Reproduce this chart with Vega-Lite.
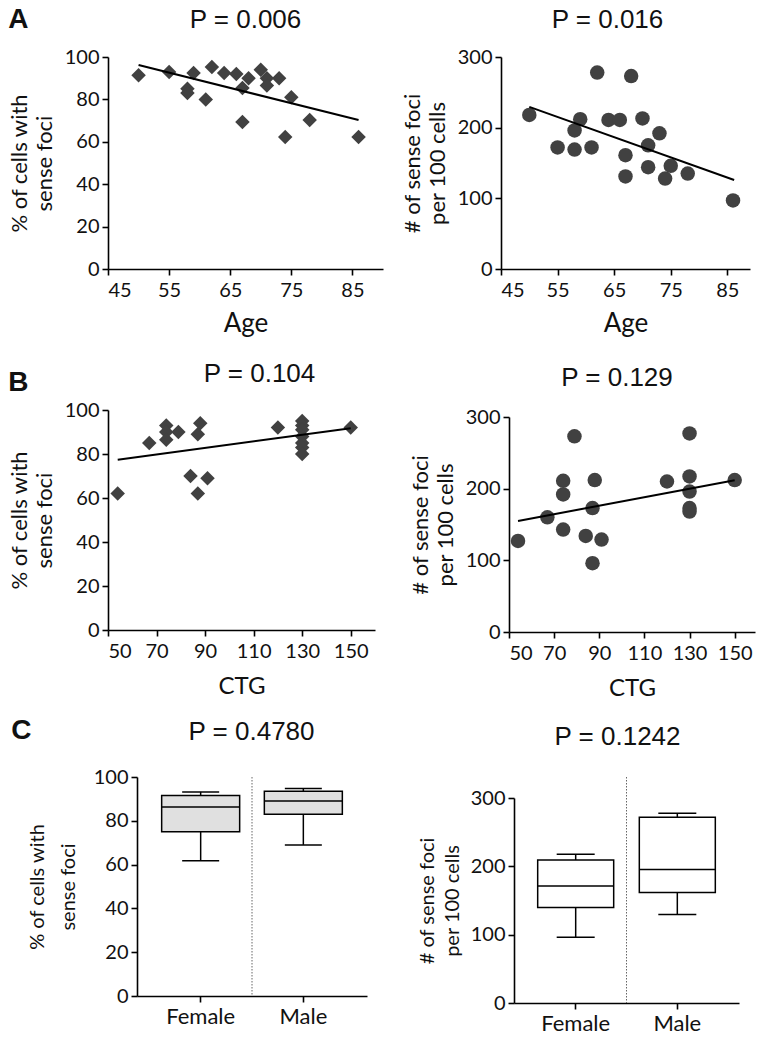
{
  "$schema": "https://vega.github.io/schema/vega-lite/v6.json",
  "background": "white",
  "padding": {"left": 8, "top": 6, "right": 6, "bottom": 0},
  "config": {
    "view": {"stroke": null},
    "axis": {"grid": false, "domainColor": "#000", "domainWidth": 1.6, "tickColor": "#000", "tickWidth": 1.6, "tickSize": 6, "labelFont": "Lato", "labelFontSize": 20, "labelColor": "#111", "titleFont": "Lato", "titleFontSize": 22, "titleFontWeight": "normal", "titleColor": "#111", "labelPadding": 3, "titlePadding": 8},
    "title": {"font": "Liberation Sans", "fontSize": 26, "fontWeight": "normal", "color": "#111"}
  },
  "datasets": {
    "ageFraction": [
      {"age": 50, "pct": 91.4}, {"age": 55, "pct": 92.9}, {"age": 58, "pct": 85}, {"age": 58, "pct": 83}, {"age": 59, "pct": 92.5},
      {"age": 61, "pct": 80}, {"age": 62, "pct": 95.3}, {"age": 64, "pct": 92.5}, {"age": 66, "pct": 92}, {"age": 67, "pct": 85.4},
      {"age": 67, "pct": 69.3}, {"age": 68, "pct": 90}, {"age": 70, "pct": 94}, {"age": 71, "pct": 90}, {"age": 71, "pct": 86.5},
      {"age": 73, "pct": 90}, {"age": 74, "pct": 62.3}, {"age": 75, "pct": 81}, {"age": 78, "pct": 70.3}, {"age": 86, "pct": 62.3}
    ],
    "ageFoci": [
      {"age": 50, "foci": 218}, {"age": 55, "foci": 172}, {"age": 58, "foci": 196}, {"age": 58, "foci": 169}, {"age": 59, "foci": 212},
      {"age": 61, "foci": 172}, {"age": 62, "foci": 278}, {"age": 64, "foci": 211}, {"age": 66, "foci": 211}, {"age": 67, "foci": 161},
      {"age": 67, "foci": 131}, {"age": 68, "foci": 273}, {"age": 70, "foci": 213}, {"age": 71, "foci": 175}, {"age": 71, "foci": 144},
      {"age": 73, "foci": 192}, {"age": 74, "foci": 128}, {"age": 75, "foci": 146}, {"age": 78, "foci": 135}, {"age": 86, "foci": 97}
    ],
    "ctgFraction": [
      {"ctg": 54, "pct": 62}, {"ctg": 67, "pct": 85}, {"ctg": 74, "pct": 93}, {"ctg": 74, "pct": 90}, {"ctg": 74, "pct": 86.5},
      {"ctg": 79, "pct": 90}, {"ctg": 84, "pct": 70}, {"ctg": 88, "pct": 94}, {"ctg": 87, "pct": 89}, {"ctg": 87, "pct": 62},
      {"ctg": 91, "pct": 69}, {"ctg": 120, "pct": 92}, {"ctg": 130, "pct": 95}, {"ctg": 130, "pct": 93}, {"ctg": 130, "pct": 91},
      {"ctg": 130, "pct": 88}, {"ctg": 130, "pct": 85}, {"ctg": 130, "pct": 83}, {"ctg": 130, "pct": 80}, {"ctg": 150, "pct": 92}
    ],
    "ctgFoci": [
      {"ctg": 54, "foci": 127}, {"ctg": 67, "foci": 160}, {"ctg": 74, "foci": 211}, {"ctg": 74, "foci": 192}, {"ctg": 74, "foci": 143},
      {"ctg": 79, "foci": 273}, {"ctg": 84, "foci": 134}, {"ctg": 88, "foci": 212}, {"ctg": 87, "foci": 173}, {"ctg": 87, "foci": 96},
      {"ctg": 91, "foci": 129}, {"ctg": 120, "foci": 210}, {"ctg": 130, "foci": 277}, {"ctg": 130, "foci": 217}, {"ctg": 130, "foci": 196},
      {"ctg": 130, "foci": 173}, {"ctg": 130, "foci": 168}, {"ctg": 150, "foci": 212}
    ],
    "fitAgeFraction": [{"age": 50, "pct": 96.2}, {"age": 86, "pct": 70.3}],
    "fitAgeFoci": [{"age": 50, "foci": 229.5}, {"age": 86.2, "foci": 125.9}],
    "fitCtgFraction": [{"ctg": 54, "pct": 77.4}, {"ctg": 150, "pct": 91.7}],
    "fitCtgFoci": [{"ctg": 54, "foci": 155}, {"ctg": 150, "foci": 211.6}],
    "boxFraction": [
      {"sex": "Female", "min": 61.8, "q1": 75, "median": 86.3, "q3": 91.5, "max": 93.2},
      {"sex": "Male", "min": 69, "q1": 83, "median": 89, "q3": 93.5, "max": 94.8}
    ],
    "boxFoci": [
      {"sex": "Female", "min": 96.4, "q1": 139.8, "median": 171.4, "q3": 209.4, "max": 217.7},
      {"sex": "Male", "min": 129.6, "q1": 161.7, "median": 195.3, "q3": 271.8, "max": 277.6}
    ],
    "divider": [{"sex": "Female"}]
  },
  "spacing": 17,
  "vconcat": [
    {
      "spacing": 25,
      "vconcat": [
        {
          "title": {"text": "A", "anchor": "start", "frame": "bounds", "fontSize": 28, "fontWeight": "bold", "offset": 0, "dy": 27},
          "spacing": 18,
          "hconcat": [
            {
              "width": 275, "height": 212,
              "title": {"text": "P = 0.006", "offset": 14},
              "layer": [
                {
                  "data": {"name": "ageFraction"},
                  "mark": {"type": "point", "shape": "diamond", "filled": true, "size": 210, "color": "#414141", "opacity": 1},
                  "encoding": {
                    "x": {"field": "age", "type": "quantitative", "scale": {"domain": [45, 90], "nice": false, "zero": false}, "axis": {"values": [45, 55, 65, 75, 85], "title": "Age", "titleFontSize": 26, "labelPadding": 5, "titlePadding": 10}},
                    "y": {"field": "pct", "type": "quantitative", "scale": {"domain": [0, 100]}, "axis": {"values": [0, 20, 40, 60, 80, 100], "title": ["% of cells with", "sense foci"], "titleLineHeight": 25}}
                  }
                },
                {
                  "data": {"name": "fitAgeFraction"},
                  "mark": {"type": "line", "color": "#000", "strokeWidth": 2},
                  "encoding": {"x": {"field": "age", "type": "quantitative"}, "y": {"field": "pct", "type": "quantitative"}}
                }
              ]
            },
            {
              "width": 249, "height": 212,
              "title": {"text": "P = 0.016", "offset": 14, "dx": -18},
              "layer": [
                {
                  "data": {"name": "ageFoci"},
                  "mark": {"type": "point", "shape": "circle", "filled": true, "size": 210, "color": "#414141", "opacity": 1},
                  "encoding": {
                    "x": {"field": "age", "type": "quantitative", "scale": {"domain": [45, 89], "nice": false, "zero": false}, "axis": {"values": [45, 55, 65, 75, 85], "title": "Age", "titleFontSize": 26, "labelPadding": 5, "titlePadding": 10}},
                    "y": {"field": "foci", "type": "quantitative", "scale": {"domain": [0, 300]}, "axis": {"values": [0, 50, 100, 150, 200, 250, 300], "title": ["# of sense foci", "per 100 cells"], "titleLineHeight": 25}}
                  }
                },
                {
                  "data": {"name": "fitAgeFoci"},
                  "mark": {"type": "line", "color": "#000", "strokeWidth": 2},
                  "encoding": {"x": {"field": "age", "type": "quantitative"}, "y": {"field": "foci", "type": "quantitative"}}
                }
              ]
            }
          ]
        },
        {
          "title": {"text": "B", "anchor": "start", "frame": "bounds", "fontSize": 28, "fontWeight": "bold", "offset": 0, "dy": 36},
          "spacing": 34,
          "hconcat": [
            {
              "width": 267, "height": 220,
              "title": {"text": "P = 0.104", "offset": 13, "dx": 18},
              "layer": [
                {
                  "data": {"name": "ctgFraction"},
                  "mark": {"type": "point", "shape": "diamond", "filled": true, "size": 210, "color": "#414141", "opacity": 1},
                  "encoding": {
                    "x": {"field": "ctg", "type": "quantitative", "scale": {"domain": [50, 160], "nice": false, "zero": false}, "axis": {"values": [50, 70, 90, 110, 130, 150], "title": "CTG", "titleFontSize": 24, "labelPadding": 5, "titlePadding": 13}},
                    "y": {"field": "pct", "type": "quantitative", "scale": {"domain": [0, 100]}, "axis": {"values": [0, 20, 40, 60, 80, 100], "title": ["% of cells with", "sense foci"], "titleLineHeight": 25}}
                  }
                },
                {
                  "data": {"name": "fitCtgFraction"},
                  "mark": {"type": "line", "color": "#000", "strokeWidth": 2},
                  "encoding": {"x": {"field": "ctg", "type": "quantitative"}, "y": {"field": "pct", "type": "quantitative"}}
                }
              ]
            },
            {
              "width": 246, "height": 222,
              "title": {"text": "P = 0.129", "offset": 16, "dx": -15},
              "layer": [
                {
                  "data": {"name": "ctgFoci"},
                  "mark": {"type": "point", "shape": "circle", "filled": true, "size": 210, "color": "#414141", "opacity": 1},
                  "encoding": {
                    "x": {"field": "ctg", "type": "quantitative", "scale": {"domain": [50, 159], "nice": false, "zero": false}, "axis": {"values": [50, 70, 90, 110, 130, 150], "title": "CTG", "titleFontSize": 24, "labelPadding": 5, "titlePadding": 13}},
                    "y": {"field": "foci", "type": "quantitative", "scale": {"domain": [0, 300], "range": [222, 7]}, "axis": {"values": [0, 50, 100, 150, 200, 250, 300], "title": ["# of sense foci", "per 100 cells"], "titleLineHeight": 25}}
                  }
                },
                {
                  "data": {"name": "fitCtgFoci"},
                  "mark": {"type": "line", "color": "#000", "strokeWidth": 2},
                  "encoding": {"x": {"field": "ctg", "type": "quantitative"}, "y": {"field": "foci", "type": "quantitative"}}
                }
              ]
            }
          ]
        }
      ]
    },
    {
      "title": {"text": "C", "anchor": "start", "frame": "bounds", "fontSize": 28, "fontWeight": "bold", "offset": 0, "dy": 26, "dx": -16},
      "spacing": 50,
      "hconcat": [
        {
          "width": 259, "height": 219,
          "title": {"text": "P = 0.4780", "offset": 22, "dx": 14},
          "data": {"name": "boxFraction"},
          "encoding": {
            "x": {"field": "sex", "type": "nominal", "sort": ["Female", "Male"], "scale": {"range": [29, 259], "paddingInner": 0, "paddingOuter": 0.12}, "axis": {"title": null, "labelAngle": 0, "labelFontSize": 22, "labelPadding": 4}}
          },
          "layer": [
            {
              "mark": {"type": "rule", "color": "#000", "strokeWidth": 1.5},
              "encoding": {"y": {"field": "min", "type": "quantitative", "scale": {"domain": [0, 100]}, "axis": {"values": [0, 20, 40, 60, 80, 100], "offset": -29, "title": ["% of cells with", "sense foci"], "titleFontSize": 20, "titleLineHeight": 31, "titlePadding": 15}}, "y2": {"field": "max"}}
            },
            {
              "mark": {"type": "bar", "size": 78, "fill": "#e0e0e0", "stroke": "#000", "strokeWidth": 1.5},
              "encoding": {"y": {"field": "q1", "type": "quantitative"}, "y2": {"field": "q3"}}
            },
            {
              "mark": {"type": "tick", "size": 78, "thickness": 1.5, "color": "#000", "opacity": 1},
              "encoding": {"y": {"field": "median", "type": "quantitative"}}
            },
            {
              "mark": {"type": "tick", "size": 37, "thickness": 1.5, "color": "#000", "opacity": 1},
              "encoding": {"y": {"field": "min", "type": "quantitative"}}
            },
            {
              "mark": {"type": "tick", "size": 37, "thickness": 1.5, "color": "#000", "opacity": 1},
              "encoding": {"y": {"field": "max", "type": "quantitative"}}
            },
            {
              "data": {"name": "divider"},
              "mark": {"type": "rule", "color": "#666", "strokeWidth": 1, "strokeDash": [1.5, 1.5]},
              "encoding": {"x": {"field": "sex", "type": "nominal", "bandPosition": 1}}
            }
          ]
        },
        {
          "width": 225, "height": 226,
          "title": {"text": "P = 0.1242", "offset": 27, "dx": -9},
          "data": {"name": "boxFoci"},
          "encoding": {
            "x": {"field": "sex", "type": "nominal", "sort": ["Female", "Male"], "scale": {"paddingInner": 0, "paddingOuter": 0.107}, "axis": {"title": null, "labelAngle": 0, "labelFontSize": 22, "labelPadding": 4}}
          },
          "layer": [
            {
              "mark": {"type": "rule", "color": "#000", "strokeWidth": 1.5},
              "encoding": {"y": {"field": "min", "type": "quantitative", "scale": {"domain": [0, 300], "range": [226, 21]}, "axis": {"values": [0, 100, 200, 300], "title": ["# of sense foci", "per 100 cells"], "titleFontSize": 20, "titleLineHeight": 25}}, "y2": {"field": "max"}}
            },
            {
              "mark": {"type": "bar", "size": 76, "fill": "#fff", "stroke": "#000", "strokeWidth": 1.5},
              "encoding": {"y": {"field": "q1", "type": "quantitative"}, "y2": {"field": "q3"}}
            },
            {
              "mark": {"type": "tick", "size": 76, "thickness": 1.5, "color": "#000", "opacity": 1},
              "encoding": {"y": {"field": "median", "type": "quantitative"}}
            },
            {
              "mark": {"type": "tick", "size": 38, "thickness": 1.5, "color": "#000", "opacity": 1},
              "encoding": {"y": {"field": "min", "type": "quantitative"}}
            },
            {
              "mark": {"type": "tick", "size": 38, "thickness": 1.5, "color": "#000", "opacity": 1},
              "encoding": {"y": {"field": "max", "type": "quantitative"}}
            },
            {
              "data": {"name": "divider"},
              "mark": {"type": "rule", "color": "#666", "strokeWidth": 1, "strokeDash": [1.5, 1.5]},
              "encoding": {"x": {"field": "sex", "type": "nominal", "bandPosition": 1}}
            }
          ]
        }
      ]
    }
  ]
}
